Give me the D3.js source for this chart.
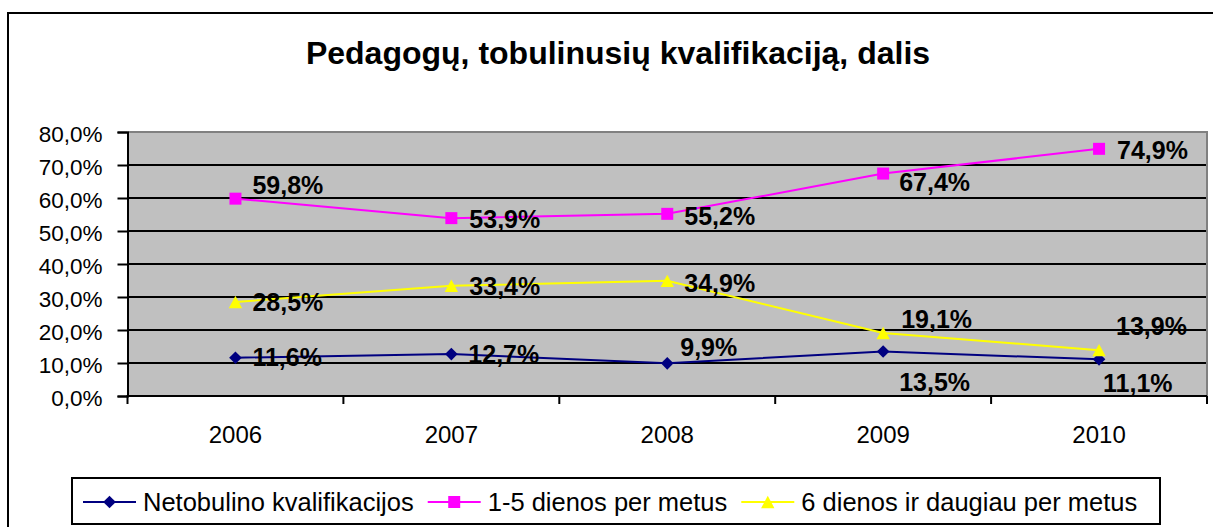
<!DOCTYPE html>
<html lang="lt">
<head>
<meta charset="UTF-8">
<title>Pedagogų kvalifikacija</title>
<script src="https://cdnjs.cloudflare.com/ajax/libs/d3/7.8.5/d3.min.js"></script>
<style>
  body { margin: 0; background: #fff; }
  svg text { font-family: "Liberation Sans", Arial, sans-serif; fill: #000; }
</style>
</head>
<body>
<div id="chart"></div>
<script>
// data
var years = ["2006", "2007", "2008", "2009", "2010"];
var netobulino = [0.116, 0.127, 0.099, 0.135, 0.111];
var dienos15 = [0.598, 0.539, 0.552, 0.674, 0.749];
var dienos6 = [0.285, 0.334, 0.349, 0.191, 0.139];
var yTicks = [0, 0.1, 0.2, 0.3, 0.4, 0.5, 0.6, 0.7, 0.8];
var seriesNames = ["Netobulino kvalifikacijos", "1-5 dienos per metus", "6 dienos ir daugiau per metus"];

// label nudges (dx, dy) where labels were moved by hand in the original
var nudgeNet = [[17, 8], [17, 9], [13, -7], [16, 40], [4, 33]];
var nudge15 = [[17, -5], [18, 10], [17, 11], [16, 17], [18, 10]];
var nudge6 = [[17, 9], [18, 9], [17, 11], [18, -5], [17, -15]];

var W = 1213, H = 527;
var plot = { left: 127.5, right: 1207, top: 132, bottom: 396 };

var svg = d3.select("#chart").append("svg")
  .attr("width", W)
  .attr("height", H);

// outer chart border (runs off the right and bottom edges)
svg.append("rect")
  .attr("x", 8).attr("y", 13)
  .attr("width", 1220).attr("height", 540)
  .attr("fill", "#fff")
  .attr("stroke", "#000")
  .attr("stroke-width", 2);

svg.append("text")
  .attr("x", 618).attr("y", 64)
  .attr("text-anchor", "middle")
  .style("font-size", "32px")
  .style("font-weight", "bold")
  .text("Pedagogų, tobulinusių kvalifikaciją, dalis");

var x = d3.scaleBand().domain(years).range([plot.left, plot.right]);
var y = d3.scaleLinear().domain([0, 0.8]).range([plot.bottom, plot.top]);
var pct = function (v) { return (v * 100).toFixed(1).replace(".", ",") + "%"; };

// plot background
svg.append("rect")
  .attr("x", plot.left).attr("y", plot.top)
  .attr("width", plot.right - plot.left).attr("height", plot.bottom - plot.top)
  .attr("fill", "#c0c0c0");

// gridlines
svg.append("g").selectAll("line")
  .data(yTicks.slice(1, -1))
  .join("line")
  .attr("x1", plot.left).attr("x2", plot.right)
  .attr("y1", d => y(d)).attr("y2", d => y(d))
  .attr("stroke", "#000").attr("stroke-width", 2);

// top and right border of the plot area
svg.append("path")
  .attr("d", "M" + plot.left + "," + plot.top + "H" + plot.right + "V" + plot.bottom)
  .attr("fill", "none").attr("stroke", "#808080").attr("stroke-width", 2);

// y axis
var yAxis = svg.append("g")
  .attr("transform", "translate(" + plot.left + ",0)")
  .call(d3.axisLeft(y).tickValues(yTicks).tickFormat(pct).tickSize(10).tickPadding(15));
yAxis.select(".domain").attr("stroke", "#000").attr("stroke-width", 2);
yAxis.selectAll(".tick line").attr("stroke", "#000").attr("stroke-width", 2);
yAxis.selectAll(".tick text")
  .attr("dy", null).attr("y", 9.5)
  .style("font-size", "22.5px").style("font-family", "'Liberation Sans', Arial, sans-serif");

// x axis, ticks sit between the categories
var xAxis = svg.append("g")
  .attr("transform", "translate(0," + plot.bottom + ")");
xAxis.append("line")
  .attr("x1", plot.left - 1).attr("x2", plot.right)
  .attr("stroke", "#000").attr("stroke-width", 2);
xAxis.selectAll(".sep")
  .data(years.concat(["end"]))
  .join("line")
  .attr("class", "sep")
  .attr("x1", (d, i) => plot.left + i * x.step())
  .attr("x2", (d, i) => plot.left + i * x.step())
  .attr("y1", 0).attr("y2", 8)
  .attr("stroke", "#000").attr("stroke-width", 2);
xAxis.selectAll(".lbl")
  .data(years)
  .join("text")
  .attr("class", "lbl")
  .attr("x", d => x(d) + x.bandwidth() / 2)
  .attr("y", 46.5)
  .attr("text-anchor", "middle")
  .style("font-size", "24px")
  .text(d => d);

// marker shapes
function diamond(s) { return "M0," + (-s) + "L" + s + ",0L0," + s + "L" + (-s) + ",0Z"; }
function square(s) { return "M" + (-s) + "," + (-s) + "H" + s + "V" + s + "H" + (-s) + "Z"; }
function triangle(s) { return "M0," + (-s) + "L" + (s + 0.5) + "," + s + "L" + (-s - 0.5) + "," + s + "Z"; }

var series = [
  { name: seriesNames[0], values: netobulino, color: "#000080", shape: diamond, size: 6.3, nudge: nudgeNet },
  { name: seriesNames[1], values: dienos15, color: "#ff00ff", shape: square, size: 6, nudge: nudge15 },
  { name: seriesNames[2], values: dienos6, color: "#ffff00", shape: triangle, size: 6.2, nudge: nudge6 }
];

var cx = d => x(d) + x.bandwidth() / 2;
var line = d3.line().x((v, i) => cx(years[i])).y(v => y(v));

series.forEach(function (s) {
  svg.append("path")
    .datum(s.values)
    .attr("d", line)
    .attr("fill", "none")
    .attr("stroke", s.color)
    .attr("stroke-width", 2);
});

series.forEach(function (s) {
  svg.append("g").selectAll("path")
    .data(s.values)
    .join("path")
    .attr("transform", (v, i) => "translate(" + cx(years[i]) + "," + y(v) + ")")
    .attr("d", s.shape(s.size))
    .attr("fill", s.color);
});

series.forEach(function (s) {
  svg.append("g").selectAll("text")
    .data(s.values)
    .join("text")
    .attr("x", (v, i) => cx(years[i]) + s.nudge[i][0])
    .attr("y", (v, i) => y(v) + s.nudge[i][1])
    .style("font-size", "25px")
    .style("font-weight", "bold")
    .text(pct);
});

// legend
var legend = svg.append("g");
legend.append("rect")
  .attr("x", 72).attr("y", 478)
  .attr("width", 1088).attr("height", 46)
  .attr("fill", "#fff")
  .attr("stroke", "#000").attr("stroke-width", 2);

var lx = 83;
series.forEach(function (s) {
  var g = legend.append("g").attr("transform", "translate(" + lx + ",0)");
  g.append("line")
    .attr("x1", 0).attr("x2", 53)
    .attr("y1", 502).attr("y2", 502)
    .attr("stroke", s.color).attr("stroke-width", 2);
  g.append("path")
    .attr("transform", "translate(26.5,502)")
    .attr("d", s.shape(s.size))
    .attr("fill", s.color);
  var t = g.append("text")
    .attr("x", 60).attr("y", 510.5)
    .style("font-size", "25.5px")
    .text(s.name);
  lx += 60 + t.node().getComputedTextLength() + 14;
});
</script>
</body>
</html>
